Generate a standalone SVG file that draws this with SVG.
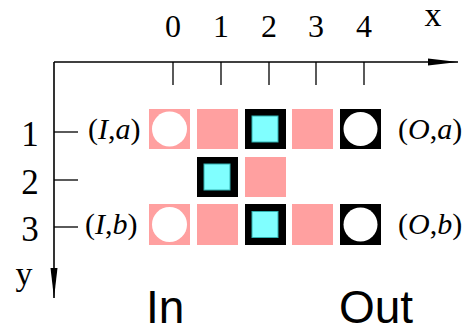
<svg xmlns="http://www.w3.org/2000/svg" width="470" height="323" viewBox="0 0 470 323">
<style>
.ax{stroke:#000;stroke-width:1.6;fill:none}
.tk{stroke:#000;stroke-width:1.3}
.pink{fill:#ffa0a0}
.blk{fill:#000}
.cy{fill:#80ffff;stroke:#30b0b0;stroke-width:1}
.hole{fill:#fff}
.num{font-family:"Liberation Serif",serif;font-size:32px;fill:#000;text-anchor:middle}
.lab{font-family:"Liberation Serif",serif;font-size:30px;fill:#000}
.big{font-family:"Liberation Sans",sans-serif;font-size:46px;fill:#000}
</style>
<defs>
<marker id="ah" markerWidth="30" markerHeight="8" refX="30" refY="4" orient="auto" markerUnits="userSpaceOnUse">
<path d="M0,0.5 L30,4 L0,7.5 Z" fill="#000"/>
</marker>
</defs>
<g id="connectors">
<path class="ax" d="M54,62 L458,62" marker-end="url(#ah)"/>
<path class="ax" d="M54,62 L54,298" marker-end="url(#ah)"/>
<line class="tk" x1="173" y1="62" x2="173" y2="85"/>
<line class="tk" x1="221" y1="62" x2="221" y2="85"/>
<line class="tk" x1="269" y1="62" x2="269" y2="85"/>
<line class="tk" x1="316" y1="62" x2="316" y2="85"/>
<line class="tk" x1="364" y1="62" x2="364" y2="85"/>
<line class="tk" x1="54" y1="132" x2="78" y2="132"/>
<line class="tk" x1="54" y1="180" x2="78" y2="180"/>
<line class="tk" x1="54" y1="227" x2="78" y2="227"/>
</g>
<g id="axis-labels">
<text class="num" x="173" y="37">0</text>
<text class="num" x="221" y="37">1</text>
<text class="num" x="269" y="37">2</text>
<text class="num" x="316" y="37">3</text>
<text class="num" x="364" y="37">4</text>
<text class="num" x="433" y="26" style="font-size:34px">x</text>
<text class="num" x="30" y="146" style="font-size:35px">1</text>
<text class="num" x="30" y="194" style="font-size:35px">2</text>
<text class="num" x="30" y="241" style="font-size:35px">3</text>
<text class="num" x="24" y="285" style="font-size:34px">y</text>
</g>
<g id="node-Ia">
<text class="lab" x="88" y="139">(<tspan font-style="italic">I</tspan>,<tspan font-style="italic">a</tspan>)</text>
</g>
<g id="node-Ib">
<text class="lab" x="85" y="234">(<tspan font-style="italic">I</tspan>,<tspan font-style="italic">b</tspan>)</text>
</g>
<g id="node-Oa">
<text class="lab" x="398" y="139">(<tspan font-style="italic">O</tspan>,<tspan font-style="italic">a</tspan>)</text>
</g>
<g id="node-Ob">
<text class="lab" x="398" y="234">(<tspan font-style="italic">O</tspan>,<tspan font-style="italic">b</tspan>)</text>
</g>
<g id="row1">
<g id="c0-1"><rect class="pink" x="149" y="109" width="41" height="40"/><circle class="hole" cx="169.5" cy="129" r="17.5"/></g>
<g id="c1-1"><rect class="pink" x="197" y="109" width="41" height="40"/></g>
<g id="c2-1"><rect class="blk" x="245" y="109" width="41" height="40"/><rect class="cy" x="252" y="116" width="26" height="26"/></g>
<g id="c3-1"><rect class="pink" x="292" y="109" width="41" height="40"/></g>
<g id="c4-1"><rect class="blk" x="340" y="109" width="41" height="40"/><circle class="hole" cx="360.5" cy="129" r="17"/></g>
</g>
<g id="row2">
<g id="c1-2"><rect class="blk" x="197" y="157" width="41" height="40"/><rect class="cy" x="204" y="164" width="26" height="26"/></g>
<g id="c2-2"><rect class="pink" x="245" y="157" width="41" height="40"/></g>
</g>
<g id="row3">
<g id="c0-3"><rect class="pink" x="149" y="204" width="41" height="41"/><circle class="hole" cx="169.5" cy="224.5" r="17.5"/></g>
<g id="c1-3"><rect class="pink" x="197" y="204" width="41" height="41"/></g>
<g id="c2-3"><rect class="blk" x="245" y="204" width="41" height="41"/><rect class="cy" x="252" y="211.5" width="26" height="26"/></g>
<g id="c3-3"><rect class="pink" x="292" y="204" width="41" height="41"/></g>
<g id="c4-3"><rect class="blk" x="340" y="204" width="41" height="41"/><circle class="hole" cx="360.5" cy="224.5" r="17"/></g>
</g>
<g id="node-In"><text class="big" x="146" y="323">In</text></g>
<g id="node-Out"><text class="big" x="339" y="323">Out</text></g>
</svg>
